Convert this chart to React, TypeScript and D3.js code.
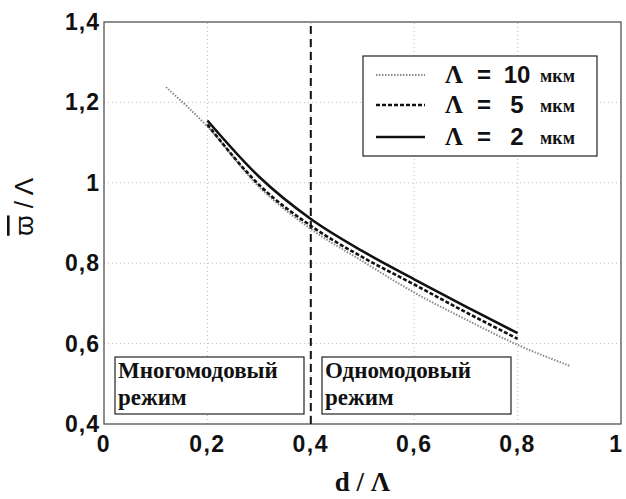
import React from 'react';
import * as d3 from 'd3';

// данные кривых (d/Λ -> ϖ/Λ)
const xs10 = [0.12, 0.2, 0.3, 0.4, 0.5, 0.6, 0.7, 0.8, 0.9];
const ys10 = [1.238, 1.14, 0.99, 0.885, 0.805, 0.727, 0.66, 0.597, 0.545];
const xs5 = [0.2, 0.3, 0.4, 0.5, 0.6, 0.7, 0.8];
const ys5 = [1.145, 0.995, 0.893, 0.815, 0.747, 0.678, 0.612];
const xs2 = [0.2, 0.3, 0.4, 0.5, 0.6, 0.7, 0.8];
const ys2 = [1.155, 1.015, 0.91, 0.83, 0.76, 0.692, 0.626];

const xTicks = [0, 0.2, 0.4, 0.6, 0.8, 1];
const yTicks = [0.4, 0.6, 0.8, 1, 1.2, 1.4];
const legendLabels = ['10', '5', '2'];
const boundary = 0.4;

const W = 626;
const H = 499;
const margin = { top: 22, right: 5, bottom: 75, left: 104 };

const fmt = (v: number) => String(+v.toFixed(1)).replace('.', ',');

export default function App() {
  const x = d3.scaleLinear().domain([0, 1]).range([margin.left, W - margin.right]);
  const y = d3.scaleLinear().domain([0.4, 1.4]).range([H - margin.bottom, margin.top]);

  const line = d3
    .line<[number, number]>()
    .x((d) => x(d[0]))
    .y((d) => y(d[1]))
    .curve(d3.curveMonotoneX);

  const series = [
    { xs: xs10, ys: ys10, stroke: '#8a8a8a', width: 2, dash: '1.5 1.5' },
    { xs: xs5, ys: ys5, stroke: '#111', width: 2.6, dash: '4 2' },
    { xs: xs2, ys: ys2, stroke: '#111', width: 2.6, dash: undefined },
  ];

  const x0 = x(0), x1 = x(1), y0 = y(0.4), y1 = y(1.4);

  // легенда
  const lgX = 363, lgY = 56, lgW = 234, lgH = 100;
  const rowY = [75, 105, 137];

  // подписи режимов
  const boxes = [
    { x: 115, w: 189, l1: 'Многомодовый', l2: 'режим' },
    { x: 322, w: 189, l1: 'Одномодовый', l2: 'режим' },
  ];

  return (
    <svg width={W} height={H} style={{ position: 'absolute', left: 0, top: 0, background: '#fff' }}>
      {/* сетка */}
      {xTicks.slice(1, -1).map((t) => (
        <line key={'gx' + t} x1={x(t)} x2={x(t)} y1={y0} y2={y1} stroke="#bbb" strokeWidth={1} strokeDasharray="1 3" />
      ))}
      {yTicks.slice(1, -1).map((t) => (
        <line key={'gy' + t} x1={x0} x2={x1} y1={y(t)} y2={y(t)} stroke="#bbb" strokeWidth={1} strokeDasharray="1 3" />
      ))}

      {/* рамка */}
      <rect x={x0} y={y1} width={x1 - x0} height={y0 - y1} fill="none" stroke="#444" strokeWidth={1.2} />

      {/* граница режимов */}
      <line x1={x(boundary)} x2={x(boundary)} y1={y0} y2={y1} stroke="#111" strokeWidth={2} strokeDasharray="8 5" />

      {/* кривые */}
      {series.map((s, i) => (
        <path
          key={i}
          d={line(s.xs.map((v, j) => [v, s.ys[j]] as [number, number])) || ''}
          fill="none"
          stroke={s.stroke}
          strokeWidth={s.width}
          strokeDasharray={s.dash}
        />
      ))}

      {/* деления */}
      {xTicks.map((t, i) => {
        const last = i === xTicks.length - 1;
        return (
          <text
            key={'tx' + t}
            x={last ? x(t) + 1 : x(t)}
            y={y0 + 28}
            textAnchor={last ? 'end' : 'middle'}
            fontFamily="Arial, Liberation Sans"
            fontWeight="bold"
            fontSize={23}
            letterSpacing={last ? 0 : 1.5}
            fill="#111"
          >
            {fmt(t)}
          </text>
        );
      })}
      {yTicks.map((t) => (
        <text key={'ty' + t} x={x0 - 4} y={y(t)} dy="0.35em" textAnchor="end" fontFamily="Arial, Liberation Sans" fontWeight="bold" fontSize={23} letterSpacing={1} fill="#111">
          {fmt(t)}
        </text>
      ))}

      {/* подписи осей */}
      <text x={(x0 + x1) / 2} y={491} textAnchor="middle" fontFamily="Times New Roman, Liberation Serif" fontWeight="bold" fontSize={27} fill="#111">
        d / Λ
      </text>
      <text
        transform={`translate(33, ${y(1.0) + 24}) rotate(-90)`}
        textAnchor="middle"
        fontFamily="Arial, Liberation Sans"
        fontSize={26}
        fill="#111"
      >
        <tspan textDecoration="overline">ϖ</tspan>
        <tspan> / Λ</tspan>
      </text>

      {/* легенда */}
      <rect x={lgX} y={lgY} width={lgW} height={lgH} fill="#fff" stroke="#222" strokeWidth={1.2} />
      {series.map((s, i) => (
        <g key={'lg' + i}>
          <line x1={376} x2={425} y1={rowY[i]} y2={rowY[i]} stroke={s.stroke} strokeWidth={s.width} strokeDasharray={s.dash} />
          <text x={445} y={rowY[i] + 8} fontSize={25} fontWeight="bold" fontFamily="Times New Roman, Liberation Serif" fill="#111">
            Λ
          </text>
          <text x={484} y={rowY[i] + 8} textAnchor="middle" fontSize={24} fontWeight="bold" fontFamily="Arial, Liberation Sans" fill="#111">
            =
          </text>
          <text x={517} y={rowY[i] + 8} textAnchor="middle" fontSize={24} fontWeight="bold" fontFamily="Arial, Liberation Sans" fill="#111">
            {legendLabels[i]}
          </text>
          <text x={540} y={rowY[i] + 7} fontSize={18} fontWeight="bold" fontFamily="Times New Roman, Liberation Serif" fill="#111">
            мкм
          </text>
        </g>
      ))}

      {/* режимы */}
      {boxes.map((b, i) => (
        <g key={'bx' + i}>
          <rect x={b.x} y={357} width={b.w} height={57} fill="#fff" stroke="#222" strokeWidth={1.2} />
          <text x={b.x + 3} y={378} fontFamily="Times New Roman, Liberation Serif" fontWeight="bold" fontSize={23} fill="#111">
            {b.l1}
          </text>
          <text x={b.x + 3} y={405} fontFamily="Times New Roman, Liberation Serif" fontWeight="bold" fontSize={23} fill="#111">
            {b.l2}
          </text>
        </g>
      ))}
    </svg>
  );
}
